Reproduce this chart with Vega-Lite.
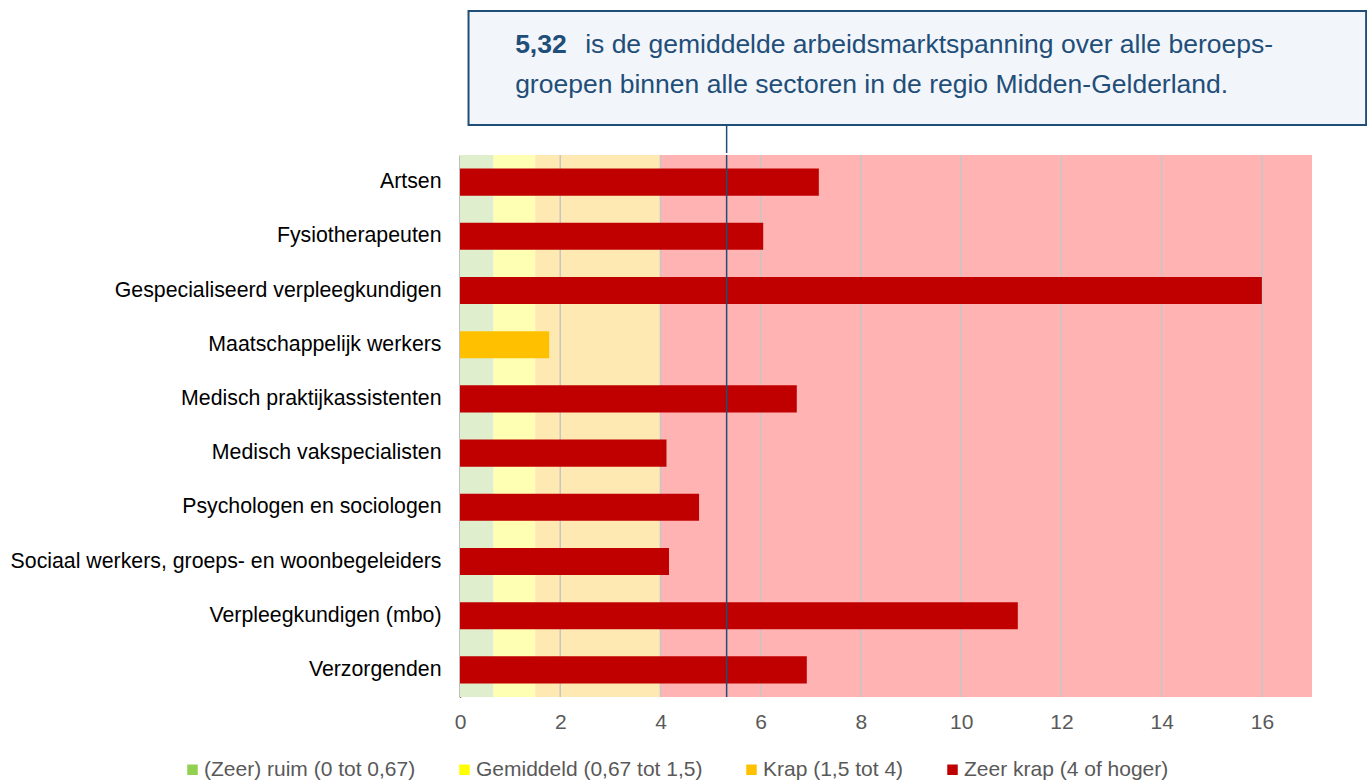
{
  "$schema": "https://vega.github.io/schema/vega-lite/v6.json",
  "padding": {"left": 10, "top": 0, "right": 0, "bottom": 0},
  "config": {
    "view": {"stroke": null},
    "font": "Liberation Sans"
  },
  "datasets": {
    "bars": [
      {"beroep": "Artsen", "waarde": 7.16, "klasse": "Zeer krap (4 of hoger)"},
      {"beroep": "Fysiotherapeuten", "waarde": 6.05, "klasse": "Zeer krap (4 of hoger)"},
      {"beroep": "Gespecialiseerd verpleegkundigen", "waarde": 16.0, "klasse": "Zeer krap (4 of hoger)"},
      {"beroep": "Maatschappelijk werkers", "waarde": 1.78, "klasse": "Krap (1,5 tot 4)"},
      {"beroep": "Medisch praktijkassistenten", "waarde": 6.72, "klasse": "Zeer krap (4 of hoger)"},
      {"beroep": "Medisch vakspecialisten", "waarde": 4.12, "klasse": "Zeer krap (4 of hoger)"},
      {"beroep": "Psychologen en sociologen", "waarde": 4.77, "klasse": "Zeer krap (4 of hoger)"},
      {"beroep": "Sociaal werkers, groeps- en woonbegeleiders", "waarde": 4.17, "klasse": "Zeer krap (4 of hoger)"},
      {"beroep": "Verpleegkundigen (mbo)", "waarde": 11.13, "klasse": "Zeer krap (4 of hoger)"},
      {"beroep": "Verzorgenden", "waarde": 6.92, "klasse": "Zeer krap (4 of hoger)"}
    ],
    "bands": [
      {"klasse": "(Zeer) ruim (0 tot 0,67)", "van": 0, "tot": 0.67},
      {"klasse": "Gemiddeld (0,67 tot 1,5)", "van": 0.67, "tot": 1.5},
      {"klasse": "Krap (1,5 tot 4)", "van": 1.5, "tot": 4},
      {"klasse": "Zeer krap (4 of hoger)", "van": 4, "tot": 17}
    ],
    "grid": [{"v": 2}, {"v": 4}, {"v": 6}, {"v": 8}, {"v": 10}, {"v": 12}, {"v": 14}, {"v": 16}],
    "gemiddelde": [{"v": 5.32}],
    "box": [{"x1": 0.17, "x2": 18.08, "y1": 142, "y2": 28, "mid": 5.32, "top": 28, "bottom": 0, "tx": 1.1, "l1": 100, "l2": 60, "getal": "5,32", "tekst1": "is de gemiddelde arbeidsmarktspanning over alle beroeps-", "tekst2": "groepen binnen alle sectoren in de regio Midden-Gelderland."}]
  },
  "vconcat": [
    {
      "width": 852,
      "height": 153,
      "data": {"name": "box"},
      "layer": [
        {
          "mark": {"type": "rect", "fill": "#f2f5f9", "stroke": "#1f4e79", "strokeWidth": 2, "clip": false},
          "encoding": {
            "x": {"field": "x1", "type": "quantitative", "scale": {"domain": [0, 17], "nice": false, "zero": false}, "axis": null},
            "x2": {"field": "x2"},
            "y": {"field": "y1", "type": "quantitative", "scale": {"domain": [0, 153], "nice": false}, "axis": null},
            "y2": {"field": "y2"}
          }
        },
        {
          "mark": {"type": "rule", "color": "#1f4e79", "strokeWidth": 1.5},
          "encoding": {
            "x": {"field": "mid", "type": "quantitative"},
            "y": {"field": "top", "type": "quantitative"},
            "y2": {"field": "bottom"}
          }
        },
        {
          "mark": {"type": "text", "align": "left", "baseline": "alphabetic", "fontSize": 26.5, "fontWeight": "bold", "color": "#1f4e79"},
          "encoding": {
            "x": {"field": "tx", "type": "quantitative"},
            "y": {"field": "l1", "type": "quantitative"},
            "text": {"field": "getal"}
          }
        },
        {
          "mark": {"type": "text", "align": "left", "baseline": "alphabetic", "fontSize": 26.5, "color": "#1f4e79", "dx": 70},
          "encoding": {
            "x": {"field": "tx", "type": "quantitative"},
            "y": {"field": "l1", "type": "quantitative"},
            "text": {"field": "tekst1"}
          }
        },
        {
          "mark": {"type": "text", "align": "left", "baseline": "alphabetic", "fontSize": 26.5, "color": "#1f4e79"},
          "encoding": {
            "x": {"field": "tx", "type": "quantitative"},
            "y": {"field": "l2", "type": "quantitative"},
            "text": {"field": "tekst2"}
          }
        }
      ]
    },
    {
      "width": 852,
      "height": 542,
      "layer": [
        {
          "data": {"name": "bands"},
          "mark": {"type": "rect"},
          "encoding": {
            "x": {"field": "van", "type": "quantitative", "scale": {"domain": [0, 17], "nice": false, "zero": false},
              "axis": {"values": [0, 2, 4, 6, 8, 10, 12, 14, 16], "title": null, "grid": false, "ticks": false, "domain": false, "labelFlush": false, "labelFontSize": 21, "labelColor": "#595959", "labelPadding": 14}},
            "x2": {"field": "tot"},
            "fill": {"field": "klasse", "type": "nominal", "legend": null,
              "scale": {"domain": ["(Zeer) ruim (0 tot 0,67)", "Gemiddeld (0,67 tot 1,5)", "Krap (1,5 tot 4)", "Zeer krap (4 of hoger)"], "range": ["#dfeecd", "#ffffb3", "#ffe9b3", "#ffb3b3"]}}
          }
        },
        {
          "data": {"name": "grid"},
          "mark": {"type": "rule", "color": "#c6c6c6", "strokeWidth": 1.5},
          "encoding": {
            "x": {"field": "v", "type": "quantitative"}
          }
        },
        {
          "data": {"name": "bars"},
          "mark": {"type": "bar"},
          "encoding": {
            "y": {"field": "beroep", "type": "nominal", "sort": null, "scale": {"paddingInner": 0.5, "paddingOuter": 0.25},
              "axis": {"title": null, "ticks": false, "domain": true, "domainColor": "#000000", "domainWidth": 1.5, "labelFontSize": 21.3, "labelColor": "#000000", "labelPadding": 19, "labelLimit": 600}},
            "x": {"field": "waarde", "type": "quantitative"},
            "color": {"field": "klasse", "type": "nominal",
              "scale": {"domain": ["(Zeer) ruim (0 tot 0,67)", "Gemiddeld (0,67 tot 1,5)", "Krap (1,5 tot 4)", "Zeer krap (4 of hoger)"], "range": ["#92d050", "#ffff00", "#ffc000", "#c00000"]},
              "legend": {"title": null, "orient": "none", "legendX": -278, "legendY": 604, "direction": "horizontal", "symbolType": "square", "symbolSize": 110, "symbolStrokeWidth": 0, "labelFontSize": 21, "labelColor": "#595959", "columnPadding": 38, "labelOffset": 1, "labelLimit": 400}}
          }
        },
        {
          "data": {"name": "gemiddelde"},
          "mark": {"type": "rule", "color": "#1f4e79", "strokeWidth": 1.5},
          "encoding": {
            "x": {"field": "v", "type": "quantitative"}
          }
        }
      ],
      "resolve": {"scale": {"fill": "independent", "color": "independent"}}
    }
  ],
  "spacing": 0
}
